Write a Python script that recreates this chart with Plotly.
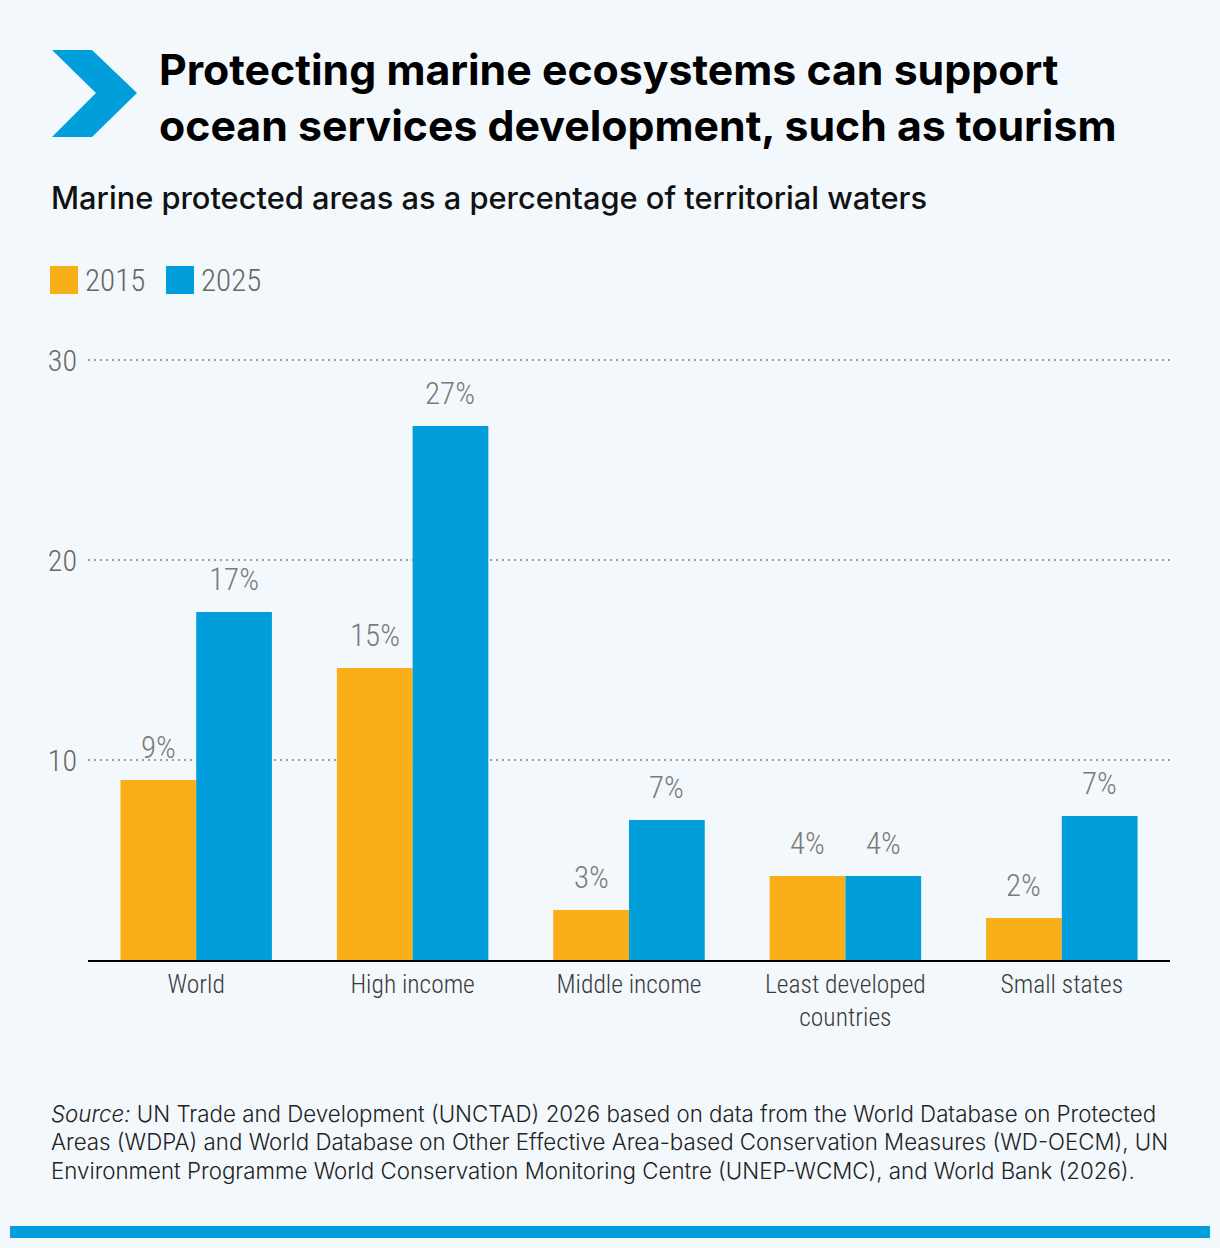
import plotly.graph_objects as go

# ---------------- data ----------------
categories = ["World", "High income", "Middle income", "Least developed<br>countries", "Small states"]
series_names = ["2015", "2025"]
values_2015 = [9.0, 14.6, 2.5, 4.2, 2.1]
values_2025 = [17.4, 26.7, 7.0, 4.2, 7.2]
labels_2015 = ["9%", "15%", "3%", "4%", "2%"]
labels_2025 = ["17%", "27%", "7%", "4%", "7%"]
y_ticks = [10, 20, 30]

title_lines = ["Protecting marine ecosystems can support",
               "ocean services development, such as tourism"]
subtitle = "Marine protected areas as a percentage of territorial waters"
source_lines = [
    "<i>Source:</i> UN Trade and Development (UNCTAD) 2026 based on data from the World Database on Protected",
    "Areas (WDPA) and World Database on Other Effective Area-based Conservation Measures (WD-OECM), UN",
    "Environment Programme World Conservation Monitoring Centre (UNEP-WCMC), and World Bank (2026).",
]

# ---------------- style ----------------
W, H = 1220, 1248
BG = "#f3f8fc"
ORANGE = "#f9ae1a"
BLUE = "#009fdb"
COND = "Roboto Condensed, Liberation Sans Narrow, Arial Narrow, sans-serif"
INTER = "Inter, Liberation Sans, Arial, sans-serif"
L, R, T, B = 88, 50, 350, 288
PW, PH = W - L - R, H - T - B
Y_MAX = 30.5
BARGAP = 0.3


def px(x):
    return (x - L) / PW


def py(y):
    return (H - B - y) / PH


fig = go.Figure()
fig.add_bar(x=categories, y=values_2015, name=series_names[0], marker_color=ORANGE,
            marker_line_width=0, showlegend=False)
fig.add_bar(x=categories, y=values_2025, name=series_names[1], marker_color=BLUE,
            marker_line_width=0, showlegend=False)

annotations = []
# value labels above bars
slot = PW / len(categories)
bar_w = slot * (1 - BARGAP) / 2
for vals, labs, sgn in [(values_2015, labels_2015, -1), (values_2025, labels_2025, 1)]:
    for c, v, t in zip(categories, vals, labs):
        annotations.append(dict(x=c, y=v, xref="x", yref="y", text=t, showarrow=False,
                                xshift=sgn * bar_w / 2, yshift=33, yanchor="middle",
                                font=dict(family=COND, size=31, color="#7a7a7a", weight=300)))

# title
annotations.append(dict(x=px(157), y=py(42), xref="paper", yref="paper", xanchor="left",
                        yanchor="top", align="left", showarrow=False,
                        text="<br>".join(title_lines),
                        font=dict(family=INTER, size=42.8, color="#000000", weight=700)))
# subtitle
annotations.append(dict(x=px(49), y=py(197), xref="paper", yref="paper", xanchor="left",
                        yanchor="middle", showarrow=False, text=subtitle,
                        font=dict(family=INTER, size=30.8, color="#111111", weight=500)))
# legend
shapes = []
leg_x = [50, 166]
for name, col, x0 in zip(series_names, [ORANGE, BLUE], leg_x):
    shapes.append(dict(type="rect", xref="paper", yref="paper", x0=px(x0), x1=px(x0 + 28),
                       y0=py(294), y1=py(266), fillcolor=col, line_width=0))
    annotations.append(dict(x=px(x0 + 33), y=py(280), xref="paper", yref="paper",
                            xanchor="left", yanchor="middle", showarrow=False, text=name,
                            font=dict(family=COND, size=31, color="#6d6561", weight=300)))
# source
for i, line in enumerate(source_lines):
    annotations.append(dict(x=px(49), y=py(1113 + i * 28.5), xref="paper", yref="paper",
                            xanchor="left", yanchor="middle", showarrow=False, text=line,
                            font=dict(family=INTER, size=22.3, color="#222222", weight=300)))

# chevron icon
pts = [(52, 50), (92, 50), (137, 93), (92, 137), (52, 137), (96, 93)]
path = "M " + " L ".join(f"{px(a):.5f},{py(b):.5f}" for a, b in pts) + " Z"
shapes.append(dict(type="path", xref="paper", yref="paper", path=path, fillcolor=BLUE, line_width=0))
# bottom band
shapes.append(dict(type="rect", xref="paper", yref="paper", x0=px(10), x1=px(1210),
                   y0=py(1238), y1=py(1226), fillcolor=BLUE, line_width=0))

fig.update_layout(
    width=W, height=H,
    margin=dict(l=L, r=R, t=T, b=B, pad=0),
    paper_bgcolor=BG, plot_bgcolor=BG,
    barmode="group", bargap=BARGAP, bargroupgap=0,
    annotations=annotations, shapes=shapes,
    showlegend=False,
)
fig.update_xaxes(showgrid=False, showline=True, linecolor="#000000", linewidth=2,
                 ticks="", tickfont=dict(family=COND, size=25.5, color="#3a3a3a", weight=300),
                 fixedrange=True)
fig.update_yaxes(range=[0, Y_MAX], tickvals=y_ticks, showgrid=True, gridcolor="#a39c98",
                 griddash="2px,4px", gridwidth=2, zeroline=False, showline=False,
                 ticklabelstandoff=10,
                 tickfont=dict(family=COND, size=30, color="#6d6561", weight=300), fixedrange=True)

fig.write_html("out.html")
